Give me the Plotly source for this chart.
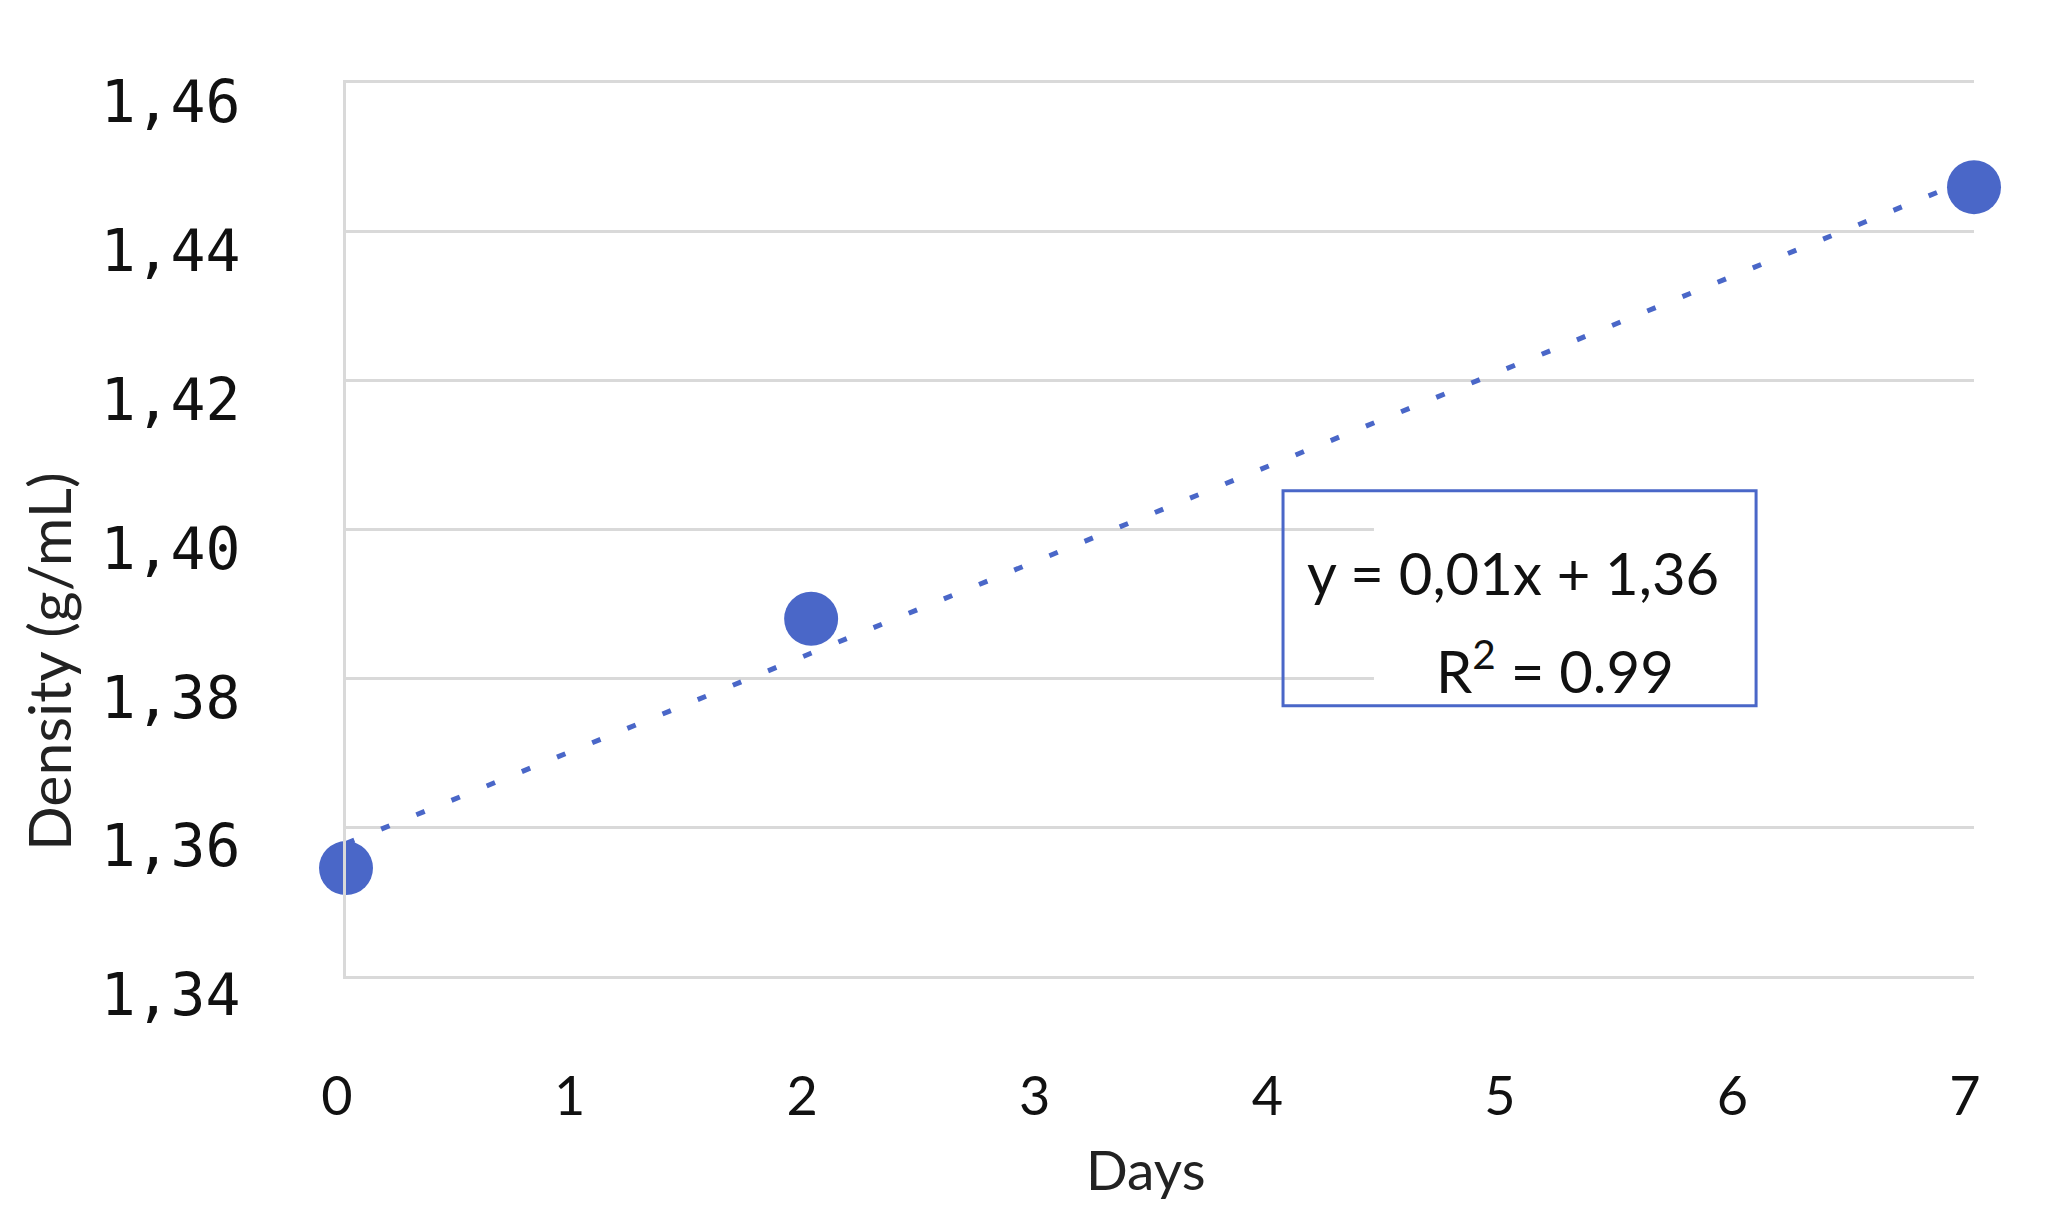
import numpy as np
import plotly.graph_objects as go

# ---- data ----
days = [0, 2, 7]
density = [1.3545, 1.388, 1.446]
x_tick_vals = [0, 1, 2, 3, 4, 5, 6, 7]
x_tick_text = ["0", "1", "2", "3", "4", "5", "6", "7"]
y_tick_vals = [1.34, 1.36, 1.38, 1.40, 1.42, 1.44, 1.46]
y_tick_text = ["1,34", "1,36", "1,38", "1,40", "1,42", "1,44", "1,46"]
eq_text = "y = 0,01x + 1,36"
r2_text = "R<sup>2</sup> = 0.99"

BLUE = "#4a67c8"
GRID = "#d9d9d9"

# linear trendline from the data
slope, intercept = np.polyfit(days, density, 1)
trend_x = [0, 7]
trend_y = [intercept + slope * v for v in trend_x]

fig = go.Figure()
fig.add_trace(go.Scatter(
    x=trend_x, y=trend_y, mode="lines",
    line=dict(color=BLUE, width=5, dash="9px,29px"),
    hoverinfo="skip", showlegend=False, cliponaxis=False,
))
fig.add_trace(go.Scatter(
    x=days, y=density, mode="markers",
    marker=dict(color=BLUE, size=54, line=dict(width=0)),
    showlegend=False, cliponaxis=False,
))

# white area hiding gridlines behind the equation box, then the box
fig.add_shape(type="rect", xref="x", yref="y", x0=4.42, x1=7.0, y0=1.377, y1=1.403,
              fillcolor="white", line=dict(width=0), layer="above")
fig.add_shape(type="rect", xref="x", yref="y", x0=4.029, x1=6.063, y0=1.3763, y1=1.4052,
              fillcolor="rgba(0,0,0,0)", line=dict(color=BLUE, width=3), layer="above")

fig.add_annotation(x=5.018, y=1.3942, xref="x", yref="y", text=eq_text, showarrow=False,
                   font=dict(family="Lato", size=58, color="#111"), xanchor="center", yanchor="middle")
fig.add_annotation(x=5.198, y=1.3815, xref="x", yref="y", text=r2_text, showarrow=False,
                   font=dict(family="Lato", size=58, color="#111"), xanchor="center", yanchor="middle")

# axis titles
fig.add_annotation(x=0.4908, y=-0.216, xref="paper", yref="paper", text="Days", showarrow=False,
                   font=dict(family="Lato", size=55, color="#222"), xanchor="center", yanchor="middle")
fig.add_annotation(x=-0.183, y=0.3516, xref="paper", yref="paper", text="Density (g/mL)",
                   showarrow=False, textangle=-90,
                   font=dict(family="Lato", size=59, color="#222"), xanchor="center", yanchor="middle")

fig.update_layout(
    width=2031, height=1206,
    margin=dict(l=338, r=65, t=75, b=238),
    plot_bgcolor="white", paper_bgcolor="white",
    font=dict(family="Lato", color="#111"),
    showlegend=False,
)
fig.update_xaxes(
    range=[0, 7], tickmode="array", tickvals=x_tick_vals, ticktext=x_tick_text,
    showgrid=False, zeroline=False, showline=True, linecolor=GRID, linewidth=3, mirror=True,
    ticks="", tickfont=dict(family="Lato", size=54, color="#111"),
    ticklabelstandoff=71, ticklabelshift=-9,
)
fig.update_yaxes(
    range=[1.34, 1.46], tickmode="array", tickvals=y_tick_vals, ticktext=y_tick_text,
    showgrid=True, gridcolor=GRID, gridwidth=3, zeroline=False,
    showline=True, linecolor=GRID, linewidth=3,
    ticks="", tickfont=dict(family="DejaVu Sans Mono", size=58, color="#111"),
    ticklabelstandoff=91, ticklabelshift=19,
)

fig.write_html("out.html")
